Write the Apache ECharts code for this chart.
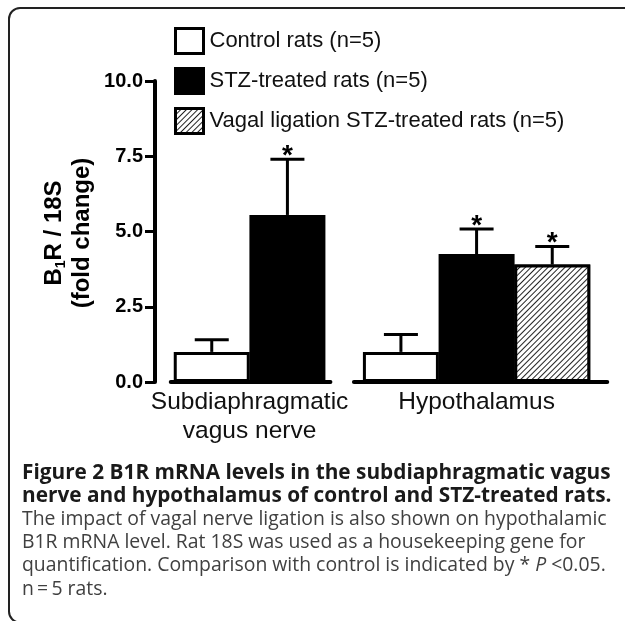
<!DOCTYPE html>
<html>
<head>
<meta charset="utf-8">
<script src="https://cdn.jsdelivr.net/npm/echarts@6/dist/echarts.min.js"></script>
<style>
  html, body { margin: 0; padding: 0; background: #fff; }
  #main { width: 625px; height: 621px; }
</style>
</head>
<body>
<div id="main"></div>
<script>
// 数据
const categories = ['Subdiaphragmatic\nvagus nerve', 'Hypothalamus'];
const seriesNames = ['Control rats (n=5)', 'STZ-treated rats (n=5)', 'Vagal ligation STZ-treated rats (n=5)'];
const controlMean = [1.0, 1.0];
const controlUpper = [1.4, 1.58];
const stzMean = [5.55, 4.25];
const stzUpper = [7.4, 5.08];
const vagalMean = [null, 3.9];
const vagalUpper = [null, 4.5];
const controlSig = [false, false];
const stzSig = [true, true];
const vagalSig = [false, true];
const yTicks = [0, 2.5, 5, 7.5, 10];

const FONT = '"Liberation Sans", Arial, sans-serif';
const CAP_FONT = '"Open Sans", sans-serif';
const GROUP_STEP = 2.5;   // 组间距 (以柱宽为单位)
const BAR_W = 76;
const axisPad = [[3, 5], [9, 17]];

const means = [controlMean, stzMean, vagalMean];
const uppers = [controlUpper, stzUpper, vagalUpper];
const sigs = [controlSig, stzSig, vagalSig];

// 每组的柱位置
const slots = categories.map((c, g) => {
  const list = [];
  means.forEach((m, s) => { if (m[g] != null) list.push(s); });
  return list.map((s, i) => ({ s: s, x: g * GROUP_STEP + i }));
});
const groupCenters = slots.map(l => (l[0].x + l[l.length - 1].x) / 2);

const barSeries = seriesNames.map((name, s) => {
  const data = [];
  slots.forEach((l, g) => l.forEach(it => { if (it.s === s) data.push([it.x, means[s][g]]); }));
  const style = { borderColor: '#000', borderWidth: 3 };
  if (s === 0) style.color = '#fff';
  if (s === 1) style.color = '#000';
  if (s === 2) {
    style.color = '#fff';
    style.decal = {
      symbol: 'rect', symbolSize: 1, color: '#222', backgroundColor: '#fff',
      dashArrayX: [1, 0], dashArrayY: [1, 2.2], rotation: -Math.PI / 4
    };
  }
  return { name: name, type: 'bar', data: data, barWidth: BAR_W, barGap: '-100%', itemStyle: style, z: 3, silent: true };
});

const errData = [];
slots.forEach((l, g) => l.forEach(it => {
  errData.push([it.x, means[it.s][g], uppers[it.s][g], sigs[it.s][g] ? 1 : 0]);
}));

const segData = slots.map((l, g) => [l[0].x, l[l.length - 1].x, g]);

var myChart = echarts.init(document.getElementById('main'));
myChart.setOption({
  animation: false,
  grid: { left: 155, right: 16, top: 81, bottom: 239 },
  legend: {
    data: seriesNames,
    orient: 'vertical', left: 174, top: 27, padding: 0,
    icon: 'rect',
    itemWidth: 28, itemHeight: 25, itemGap: 12,
    itemStyle: { borderColor: '#000', borderWidth: 3 },
    textStyle: { fontFamily: FONT, fontSize: 22, color: '#111', padding: [0, 0, 0, 1] },
    selectedMode: false
  },
  xAxis: {
    type: 'value', min: -0.75, max: 5.25,
    axisLine: { show: false }, axisTick: { show: false }, splitLine: { show: false },
    axisLabel: {
      customValues: groupCenters,
      formatter: v => categories[groupCenters.indexOf(v)] || '',
      fontFamily: FONT, fontSize: 24.5, lineHeight: 29, color: '#111', margin: 6
    }
  },
  yAxis: {
    type: 'value', min: yTicks[0], max: yTicks[yTicks.length - 1], interval: 2.5,
    axisLine: { show: true, onZero: false, lineStyle: { color: '#000', width: 4 } },
    axisTick: { show: true, length: 10, lineStyle: { color: '#000', width: 3 } },
    splitLine: { show: false },
    axisLabel: {
      formatter: v => v.toFixed(1),
      fontFamily: FONT, fontWeight: 'bold', fontSize: 20, color: '#000', margin: 12
    }
  },
  series: barSeries.concat([
    {
      type: 'custom', silent: true, z: 2,
      data: errData,
      renderItem: function (params, api) {
        const base = api.coord([api.value(0), api.value(1)]);
        const top = api.coord([api.value(0), api.value(2)]);
        const children = [
          { type: 'line', shape: { x1: base[0], y1: base[1], x2: top[0], y2: top[1] }, style: { stroke: '#000', lineWidth: 3 } },
          { type: 'line', shape: { x1: top[0] - 17, y1: top[1], x2: top[0] + 17, y2: top[1] }, style: { stroke: '#000', lineWidth: 3 } }
        ];
        if (api.value(3)) {
          children.push({
            type: 'text', x: top[0], y: top[1] - 3,
            style: { text: '*', font: 'bold 28px ' + FONT, fill: '#000', textAlign: 'center', textVerticalAlign: 'middle' }
          });
        }
        return { type: 'group', children: children };
      }
    },
    {
      type: 'custom', silent: true, z: 4,
      data: segData,
      renderItem: function (params, api) {
        const g = api.value(2);
        const p1 = api.coord([api.value(0), 0]);
        const p2 = api.coord([api.value(1), 0]);
        return {
          type: 'line',
          shape: { x1: p1[0] - BAR_W / 2 - axisPad[g][0], y1: p1[1], x2: p2[0] + BAR_W / 2 + axisPad[g][1], y2: p2[1] },
          style: { stroke: '#000', lineWidth: 4, lineCap: 'round' }
        };
      }
    }
  ]),
  graphic: [
    {
      type: 'rect', silent: true,
      shape: { x: 9, y: 8, width: 700, height: 614.5, r: 11 },
      style: { fill: 'none', stroke: '#222', lineWidth: 2 }
    },
    {
      type: 'text', x: 68, y: 233, rotation: Math.PI / 2,
      style: {
        text: '{b|B}{s|1}{b|R / 18S}\n{b|(fold change)}',
        textAlign: 'center', textVerticalAlign: 'middle',
        rich: {
          b: { fontFamily: FONT, fontWeight: 'bold', fontSize: 24, lineHeight: 28, fill: '#000' },
          s: { fontFamily: FONT, fontWeight: 'bold', fontSize: 14, lineHeight: 28, verticalAlign: 'bottom', fill: '#000' }
        }
      }
    },
    { type: 'text', left: 22, top: 463, style: { text: 'Figure 2 B1R mRNA levels in the subdiaphragmatic vagus', font: 'bold 20.8px ' + CAP_FONT, fill: '#1a1a1a' } },
    { type: 'text', left: 22, top: 486, style: { text: 'nerve and hypothalamus of control and STZ-treated rats.', font: 'bold 20.8px ' + CAP_FONT, fill: '#1a1a1a' } },
    { type: 'text', left: 22, top: 510, style: { text: 'The impact of vagal nerve ligation is also shown on hypothalamic', font: '19.4px ' + CAP_FONT, fill: '#404040' } },
    { type: 'text', left: 22, top: 533, style: { text: 'B1R mRNA level. Rat 18S was used as a housekeeping gene for', font: '19.4px ' + CAP_FONT, fill: '#404040' } },
    {
      type: 'text', left: 22, top: 556,
      style: {
        text: '{r|quantification. Comparison with control is indicated by * }{i|P}{r| <0.05.}',
        rich: {
          r: { fontFamily: CAP_FONT, fontSize: 19.4, fill: '#404040' },
          i: { fontFamily: CAP_FONT, fontSize: 19.4, fontStyle: 'italic', fill: '#404040' }
        }
      }
    },
    { type: 'text', left: 22, top: 580, style: { text: 'n\u2009=\u20095 rats.', font: '19.4px ' + CAP_FONT, fill: '#404040' } }
  ]
});
</script>
</body>
</html>
